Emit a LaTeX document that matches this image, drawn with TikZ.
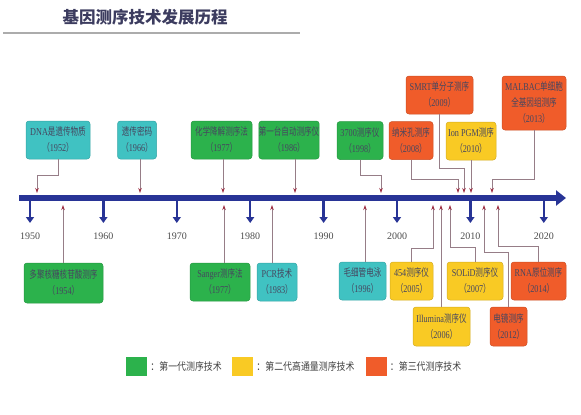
\documentclass[tikz,border=0pt]{standalone}
\usepackage{fontspec}
\setmainfont{Liberation Serif}
\newfontfamily\cjk[FakeStretch=0.72]{Noto Sans CJK SC}
\newfontfamily\cjkleg[FakeStretch=0.85]{Noto Sans CJK SC}
\newfontfamily\cjkhead{Noto Sans CJK SC}
\newfontfamily\boxlat[FakeStretch=0.78]{Liberation Serif}
\usetikzlibrary{arrows.meta,positioning}

\definecolor{cteal}{RGB}{64,194,194}
\definecolor{cgreen}{RGB}{44,178,76}
\definecolor{cyellow}{RGB}{249,202,36}
\definecolor{corange}{RGB}{240,92,42}
\definecolor{axisblue}{RGB}{40,52,150}
\definecolor{linec}{RGB}{150,125,135}
\definecolor{tipred}{RGB}{160,50,70}
\definecolor{boxtext}{RGB}{70,70,95}
\definecolor{titlec}{RGB}{60,60,95}

\newcommand{\zh}[1]{{\cjk #1}}
\newcommand{\yr}[1]{\zh{（}#1\zh{）}}

\tikzset{
  card/.style={rounded corners=3pt, draw=#1!85!black, line width=0.5pt, fill=#1,
    text=boxtext, align=center, inner sep=0pt, minimum height=38pt,
    font=\boxlat\fontsize{10.5}{16}\selectfont},
  conn/.style={draw=linec, line width=0.7pt,
    -{Stealth[length=5pt,width=3.5pt,color=tipred]}},
  tick/.style={draw=axisblue, line width=2.5pt, -{Triangle[length=6pt,width=8pt]}},
  yearlab/.style={font=\fontsize{10}{10}\selectfont, text=black!70},
  swatch/.style={fill=#1, minimum width=21pt, minimum height=19pt, inner sep=0pt},
  legtext/.style={font=\cjkleg\fontsize{10.5}{10.5}\selectfont, text=black!75, inner sep=0pt}
}

\begin{document}
\begin{tikzpicture}[x=1pt,y=-1pt]
  \useasboundingbox (0,0) rectangle (581,415);

  \node[font=\cjkhead\bfseries\fontsize{16.5}{16.5}\selectfont, text=titlec] (title) at (145,17) {基因测序技术发展历程};
  \draw[gray!65, line width=2pt] (3,33) -- (300,33);

  % time axis
  \foreach \yy in {1950,1960,...,2020}{
    \pgfmathsetmacro{\px}{30+7.34*(\yy-1950)}
    \draw[tick] (\px,200) -- (\px,223);
    \node[yearlab] (y\yy) at (\px,236) {\yy};
  }
  \draw[axisblue, line width=6pt, -{Triangle[length=10pt,width=15pt]}] (19,198) -- (566,198);

  \coordinate (a1952) at (37,193);
  \coordinate (a1966) at (140,193);
  \coordinate (a1977) at (223,193);
  \coordinate (a1986) at (295,193);
  \coordinate (a1998) at (381,193);
  \coordinate (a2008) at (458,193);
  \coordinate (a2009) at (464,193);
  \coordinate (a2010) at (471,193);
  \coordinate (a2013) at (492,193);

  \coordinate (b1954) at (63,205);
  \coordinate (b1977) at (224,205);
  \coordinate (b1983) at (272,205);
  \coordinate (b1996) at (365,205);
  \coordinate (b2005) at (433,205);
  \coordinate (b2006) at (441,205);
  \coordinate (b2007) at (450,205);
  \coordinate (b2012) at (484,205);
  \coordinate (b2014) at (498,205);

  % events above the axis
  \node[card=cteal, minimum width=64pt] (dna) at (58,140) {DNA\zh{是遗传物质}\\\yr{1952}};
  \node[card=cteal, minimum width=39pt] (code) at (137,140) {\zh{遗传密码}\\\yr{1966}};
  \node[card=cgreen, minimum width=61pt] (chem) at (221.5,140) {\zh{化学降解测序法}\\\yr{1977}};
  \node[card=cgreen, minimum width=58pt] (auto) at (289,140) {\zh{第一台自动测序仪}\\\yr{1986}};
  \node[card=cgreen, minimum width=46pt] (abi) at (360,140.5) {3700\zh{测序仪}\\\yr{1998}};
  \node[card=corange, minimum width=44pt] (nano) at (411,140.5) {\zh{纳米孔测序}\\\yr{2008}};
  \node[card=corange, minimum width=67pt] (smrt) at (439.5,95) {SMRT\zh{单分子测序}\\\yr{2009}};
  \node[card=cyellow, minimum width=50pt] (ion) at (471,141) {Ion PGM\zh{测序}\\\yr{2010}};
  \node[card=corange, minimum width=64pt, minimum height=54pt] (malbac) at (534,103) {MALBAC\zh{单细胞}\\\zh{全基因组测序}\\\yr{2013}};

  % events below the axis
  \node[card=cgreen, minimum width=79pt, minimum height=40pt] (poly) at (63.5,283) {\zh{多聚核糖核苷酸测序}\\\yr{1954}};
  \node[card=cgreen, minimum width=60pt] (sanger) at (220,282) {Sanger\zh{测序法}\\\yr{1977}};
  \node[card=cteal, minimum width=40pt] (pcr) at (277,282) {PCR\zh{技术}\\\yr{1983}};
  \node[card=cteal, minimum width=47pt] (capil) at (362.5,281) {\zh{毛细管电泳}\\\yr{1996}};
  \node[card=cyellow, minimum width=43pt] (roche) at (411.5,281) {454\zh{测序仪}\\\yr{2005}};
  \node[card=cyellow, minimum width=57pt, minimum height=39pt] (illu) at (441.5,326.5) {Illumina\zh{测序仪}\\\yr{2006}};
  \node[card=cyellow, minimum width=56pt] (solid) at (475,281) {SOLiD\zh{测序仪}\\\yr{2007}};
  \node[card=corange, minimum width=37pt, minimum height=39pt] (em) at (508.5,326.5) {\zh{电镜测序}\\\yr{2012}};
  \node[card=corange, minimum width=55pt] (rna) at (538.5,281) {RNA\zh{原位测序}\\\yr{2014}};

  % connectors
  \draw[conn] (dna.south) -- ++(0,16) -| (a1952);
  \draw[conn] (a1966 |- code.south) -- (a1966);
  \draw[conn] (a1977 |- chem.south) -- (a1977);
  \draw[conn] (a1986 |- auto.south) -- (a1986);
  \draw[conn] (abi.south) -- ++(0,16) -| (a1998);
  \draw[conn] (nano.south) -- ++(0,20) -| (a2008);
  \draw[conn] (smrt.south) -- ++(0,54) -| (a2009);
  \draw[conn] (a2010 |- ion.south) -- (a2010);
  \draw[conn] (malbac.south) -- ++(0,49) -| (a2013);

  \draw[conn] (b1954 |- poly.north) -- (b1954);
  \draw[conn] (b1977 |- sanger.north) -- (b1977);
  \draw[conn] (b1983 |- pcr.north) -- (b1983);
  \draw[conn] (b1996 |- capil.north) -- (b1996);
  \draw[conn] (roche.north) -- ++(0,-13) -| (b2005);
  \draw[conn] (b2006 |- illu.north) -- (b2006);
  \draw[conn] (solid.north) -- ++(0,-14) -| (b2007);
  \draw[conn] (em.north) -- ++(0,-54) -| (b2012);
  \draw[conn] (rna.north) -- ++(0,-15) -| (b2014);

  % legend
  \node[swatch=cgreen] (sw1) at (136.5,366.5) {};
  \node[legtext, right=3pt of sw1] (lg1) {：第一代测序技术};
  \node[swatch=cyellow] (sw2) at (242.5,366.5) {};
  \node[legtext, right=3pt of sw2] (lg2) {：第二代高通量测序技术};
  \node[swatch=corange] (sw3) at (376,366.5) {};
  \node[legtext, right=3pt of sw3] (lg3) {：第三代测序技术};
\end{tikzpicture}
\end{document}
